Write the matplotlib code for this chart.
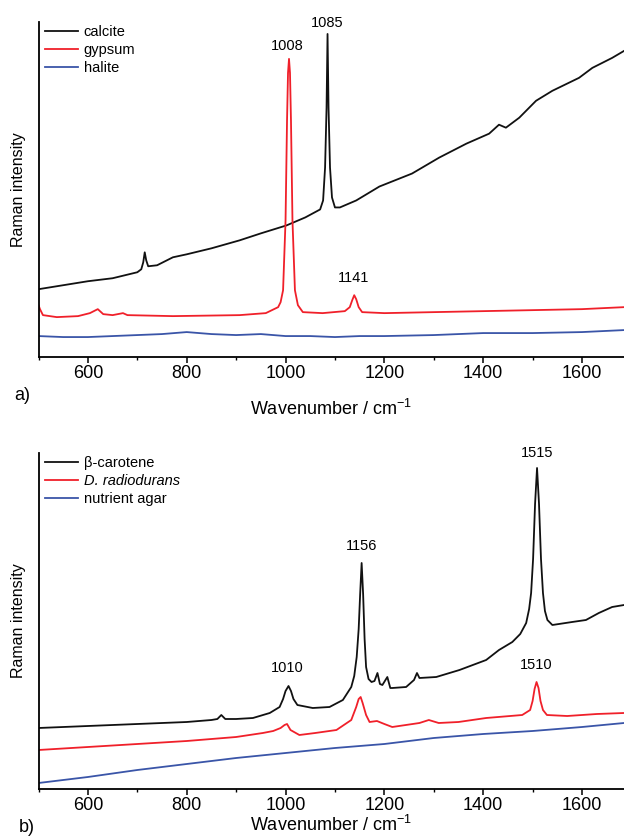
import numpy as np
import matplotlib
matplotlib.use("Agg")
import matplotlib.pyplot as plt
from matplotlib.ticker import MultipleLocator

plt.rcParams['font.family'] = ['Liberation Sans', 'DejaVu Sans']
plt.rcParams['mathtext.default'] = 'regular'

# ---- panel a: minerals (arbitrary units) ----
calcite_wn = [500, 550, 600, 650, 700, 708, 712, 715, 718, 722, 740, 772, 800, 850, 907, 950,
              1002, 1040, 1070, 1076, 1080, 1083, 1085, 1087, 1090, 1094, 1100, 1110, 1143, 1190,
              1256, 1311, 1366, 1412, 1432, 1446, 1473, 1507, 1540, 1594, 1621, 1661, 1685]
calcite_int = [68, 72, 76, 79, 85, 88, 95, 105, 97, 91, 92, 100, 103, 109, 117, 124,
               132, 140, 148, 157, 190, 250, 324, 250, 190, 160, 150, 150, 157, 171,
               184, 200, 214, 224, 233, 230, 240, 257, 267, 280, 290, 300, 307]

gypsum_wn = [500, 503, 509, 537, 580, 604, 620, 631, 650, 671, 680, 772, 907, 960, 985, 990, 995,
             1000, 1003, 1005, 1007, 1009, 1011, 1014, 1019, 1025, 1035, 1075, 1120, 1130, 1135,
             1139, 1143, 1148, 1155, 1200, 1300, 1400, 1500, 1600, 1685]
gypsum_int = [52, 48, 42, 40, 41, 44, 48, 43, 42, 44, 42, 41, 42, 44, 50, 55, 67,
              137, 237, 285, 299, 285, 237, 137, 67, 52, 45, 44, 46, 50, 57,
              62, 58, 50, 45, 44, 45, 46, 47, 48, 50]

halite_wn = [500, 550, 600, 650, 700, 750, 800, 850, 900, 950, 1000, 1050, 1100, 1150, 1200,
             1300, 1400, 1500, 1600, 1685]
halite_int = [21, 20, 20, 21, 22, 23, 25, 23, 22, 23, 21, 21, 20, 21, 21, 22, 24, 24, 25, 27]

# ---- panel b: carotenoid / bacteria ----
carotene_wn = [500, 600, 700, 800, 850, 862, 870, 878, 900, 934, 968, 988, 995, 1000, 1006, 1011,
               1016, 1024, 1055, 1089, 1116, 1133, 1139, 1144, 1148, 1151, 1154, 1157, 1160, 1163,
               1168, 1174, 1180, 1186, 1191, 1196, 1206, 1212, 1216, 1244, 1260, 1266, 1271, 1305,
               1352, 1406, 1432, 1459, 1475, 1487, 1493, 1497, 1501, 1505, 1509, 1513, 1517, 1521,
               1525, 1530, 1540, 1580, 1608, 1634, 1661, 1685]
carotene_int = [61, 63, 65, 67, 69, 70, 74, 70, 70, 71, 76, 82, 90, 98, 103, 98,
                90, 84, 81, 82, 89, 102, 113, 132, 160, 195, 226, 195, 150, 122,
                110, 107, 108, 116, 105, 104, 112, 101, 101, 102, 109, 116, 111, 112,
                119, 129, 139, 147, 155, 166, 180, 196, 230, 285, 321, 285, 230, 196,
                178, 169, 164, 167, 169, 176, 182, 184]

radiodurans_wn = [500, 600, 700, 800, 900, 954, 975, 990, 998, 1003, 1010, 1028, 1060, 1103, 1133,
                  1143, 1148, 1152, 1156, 1163, 1170, 1185, 1200, 1216, 1271, 1290, 1310, 1350,
                  1406, 1479, 1495, 1500, 1504, 1508, 1512, 1516, 1521, 1529, 1570, 1630, 1685]
radiodurans_int = [39, 42, 45, 48, 52, 56, 58, 61, 64, 65, 59, 54, 56, 59, 69,
                   82, 90, 92, 86, 74, 67, 68, 65, 62, 66, 69, 66, 67,
                   71, 74, 79, 88, 100, 107, 101, 88, 79, 74, 73, 75, 76]

agar_wn = [500, 600, 700, 800, 900, 1000, 1100, 1200, 1300, 1400, 1500, 1600, 1685]
agar_int = [6, 12, 19, 25, 31, 36, 41, 45, 51, 55, 58, 62, 66]

colors = {'black': '#111111', 'red': '#f0202a', 'blue': '#3a55a8'}

fig = plt.figure(figsize=(6.24, 8.36), dpi=100)
ax_a = fig.add_axes([38.5 / 624, 1 - 357 / 836, 1 - 38.5 / 624, 335 / 836])
ax_b = fig.add_axes([38.5 / 624, 1 - 789 / 836, 1 - 38.5 / 624, 336 / 836])


def style_axis(ax, xlabel_pad):
    ax.set_xlim(500, 1685)
    ax.set_ylim(0, 336)
    ax.spines['top'].set_visible(False)
    ax.spines['right'].set_visible(False)
    for s in ['left', 'bottom']:
        ax.spines[s].set_linewidth(1.3)
    ax.set_yticks([])
    ax.xaxis.set_major_locator(MultipleLocator(200))
    ax.xaxis.set_minor_locator(MultipleLocator(100))
    ax.tick_params(axis='x', which='major', direction='out', length=4, width=1.1,
                   labelsize=13, pad=2)
    ax.tick_params(axis='x', which='minor', direction='out', length=2.5, width=1.0)
    ax.set_xlabel('Wavenumber / cm$^{-1}$', fontsize=13, labelpad=xlabel_pad)
    ax.set_ylabel('Raman intensity', fontsize=11.5, labelpad=9)


lw = 1.3
ax_a.plot(calcite_wn, calcite_int, color=colors['black'], lw=lw, label='calcite')
ax_a.plot(gypsum_wn, gypsum_int, color=colors['red'], lw=lw, label='gypsum')
ax_a.plot(halite_wn, halite_int, color=colors['blue'], lw=lw, label='halite')
style_axis(ax_a, 12)
ax_a.text(1085, 335, '1085', ha='center', va='center', fontsize=10.5)
ax_a.text(1004, 312, '1008', ha='center', va='center', fontsize=10.5)
ax_a.text(1138, 79, '1141', ha='center', va='center', fontsize=10.5)

ax_b.plot(carotene_wn, carotene_int, color=colors['black'], lw=lw, label='\u03b2-carotene')
ax_b.plot(radiodurans_wn, radiodurans_int, color=colors['red'], lw=lw, label='D. radiodurans')
ax_b.plot(agar_wn, agar_int, color=colors['blue'], lw=lw, label='nutrient agar')
style_axis(ax_b, 0.5)
ax_b.text(1154, 243, '1156', ha='center', va='center', fontsize=10.5)
ax_b.text(1004, 121, '1010', ha='center', va='center', fontsize=10.5)
ax_b.text(1507, 124, '1510', ha='center', va='center', fontsize=10.5)
ax_b.text(1509, 336, '1515', ha='center', va='center', fontsize=10.5)

for ax in (ax_a, ax_b):
    leg = ax.legend(loc='upper left', bbox_to_anchor=(0.006, 1.0), frameon=False,
                    fontsize=10.5, handlelength=2.3, handletextpad=0.35,
                    labelspacing=0.28, borderaxespad=0, borderpad=0.2)
leg.get_texts()[1].set_style('italic')

fig.text(22 / 624, 1 - 395 / 836, 'a)', ha='center', va='center', fontsize=13)
fig.text(27 / 624, 1 - 827 / 836, 'b)', ha='center', va='center', fontsize=13)

fig.savefig('out.png', dpi=100)
